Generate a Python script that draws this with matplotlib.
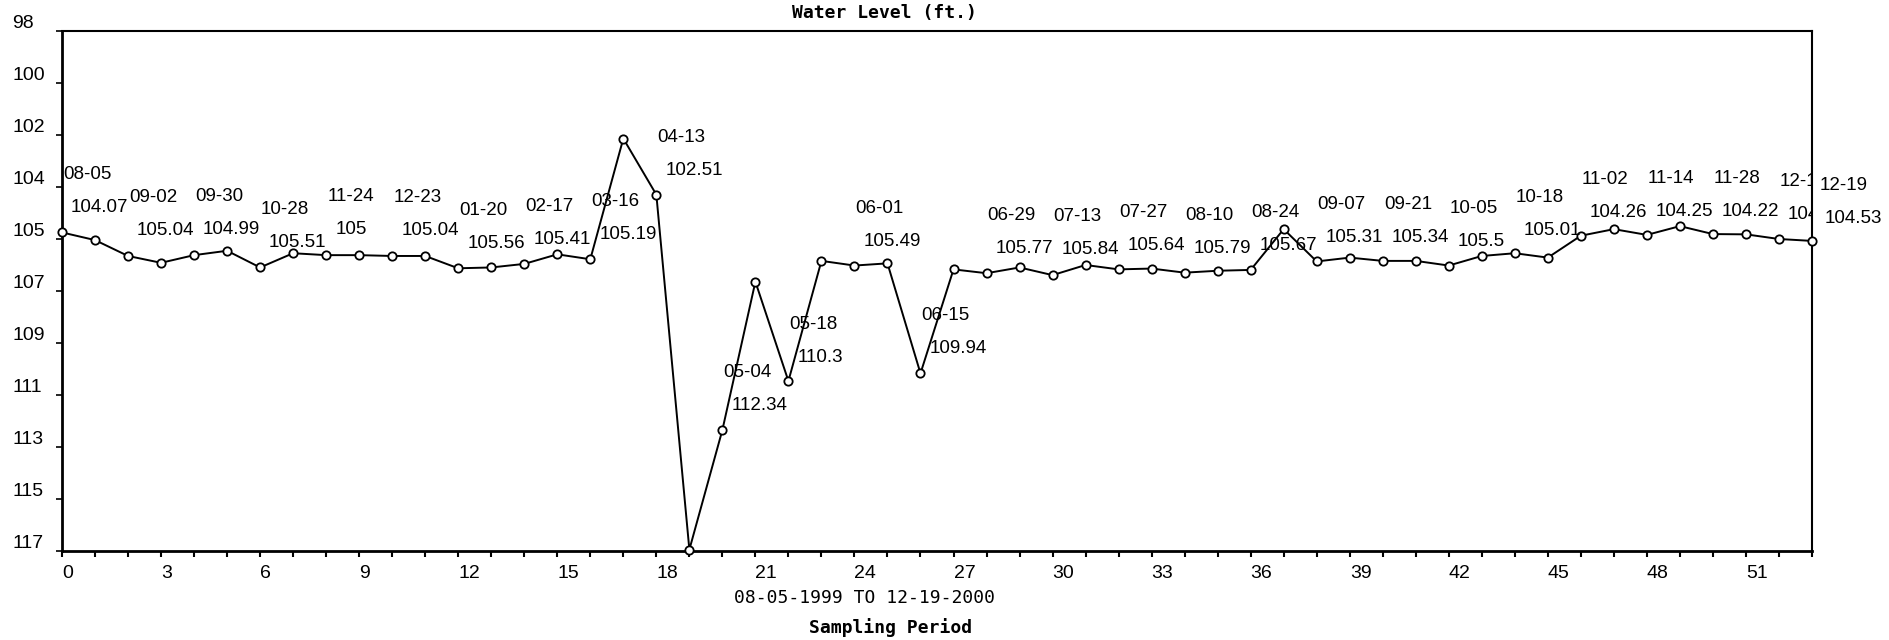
import numpy as np
import matplotlib
matplotlib.use("Agg")
import matplotlib.pyplot as plt
import matplotlib.transforms as mtransforms

# ----------------------------
# datos
# ----------------------------
muestra = np.arange(54)
nivel = [105.36, 105.64, 106.22, 106.47, 106.19, 106.03, 106.64, 106.12, 106.19, 106.19,
         106.22, 106.22, 106.67, 106.64, 106.51, 106.16, 106.34, 101.93, 103.98, 116.95,
         112.58, 107.16, 110.79, 106.40, 106.57, 106.49, 110.51, 106.71, 106.85, 106.64,
         106.92, 106.55, 106.71, 106.68, 106.83, 106.76, 106.73, 105.24, 106.42, 106.28,
         106.40, 106.40, 106.57, 106.22, 106.12, 106.28, 105.48, 105.24, 105.45, 105.13,
         105.42, 105.43, 105.60, 105.67]

# etiquetas: cada dos muestras + la ultima
idx_etiq = list(range(0, 53, 2)) + [53]
fechas = ['08-05', '09-02', '09-30', '10-28', '11-24', '12-23', '01-20', '02-17', '03-16',
          '04-13', '05-04', '05-18', '06-01', '06-15', '06-29', '07-13', '07-27', '08-10',
          '08-24', '09-07', '09-21', '10-05', '10-18', '11-02', '11-14', '11-28', '12-12',
          '12-19']
valores = ['104.07', '105.04', '104.99', '105.51', '105', '105.04', '105.56', '105.41',
           '105.19', '102.51', '112.34', '110.3', '105.49', '109.94', '105.77', '105.84',
           '105.64', '105.79', '105.67', '105.31', '105.34', '105.5', '105.01', '104.26',
           '104.25', '104.22', '104.38', '104.53']

y_ticks = np.linspace(98, 117, 11)
y_labels = ['98', '100', '102', '104', '105', '107', '109', '111', '113', '115', '117']
x_ticks = np.arange(0, 54, 3)

# ----------------------------
# grafico
# ----------------------------
W, H = 1889, 640
fig = plt.figure(figsize=(W / 100, H / 100), dpi=100)
ax = fig.add_axes([62 / W, 1 - 551 / H, (1812 - 62) / W, (551 - 31) / H])

ax.plot(muestra, nivel, color='black', lw=1.4, marker='o', ms=6, mfc='white',
        mec='black', mew=1.3, clip_on=False, zorder=3)

ax.set_xlim(0, 53)
ax.set_ylim(117, 98)

for lado in ['left', 'bottom']:
    ax.spines[lado].set_linewidth(2.0)
for lado in ['top', 'right']:
    ax.spines[lado].set_linewidth(1.5)

ax.set_xticks(x_ticks)
ax.set_xticks(muestra, minor=True)
ax.set_xticklabels([str(t) for t in x_ticks], fontsize=14, family='Liberation Sans')
for lab in ax.get_xticklabels():
    lab.set_ha('left')
ax.tick_params(axis='x', which='both', direction='out', length=4, width=1.5, pad=6)

ax.set_yticks(y_ticks)
ax.set_yticklabels([])
ax.tick_params(axis='y', direction='out', length=4, width=1.2)

# etiquetas del eje y alineadas a la izquierda, un poco por encima del tick
tr_y = mtransforms.blended_transform_factory(fig.transFigure, ax.transData)
tr_y = mtransforms.offset_copy(tr_y, fig=fig, y=3, units='dots')
for v, lab in zip(y_ticks, y_labels):
    ax.text(12 / W, v, lab, transform=tr_y, ha='left', va='baseline',
            fontsize=14, family='Liberation Sans', clip_on=False)

# etiquetas fecha / valor; su altura sigue el valor con otra escala (24 px/unidad)
px_u = (551 - 31) / 19.0
for k, (i, f, v) in enumerate(zip(idx_etiq, fechas, valores)):
    py = (float(v) - 98) * 24 - 2.2
    yf = 98 + py / px_u
    yv = yf + 33 / px_u
    dx1, dx2 = (1, 9) if i != 53 else (8, 13)
    clip = (i == 52)
    t1 = mtransforms.offset_copy(ax.transData, fig=fig, x=dx1, units='dots')
    t2 = mtransforms.offset_copy(ax.transData, fig=fig, x=dx2, units='dots')
    ax.text(i, yf, f, transform=t1, ha='left', va='center', fontsize=13.5,
            family='Liberation Sans', clip_on=clip, zorder=4)
    ax.text(i, yv, v, transform=t2, ha='left', va='center', fontsize=13.5,
            family='Liberation Sans', clip_on=clip, zorder=4)

fig.text(884 / W, 1 - 13 / H, 'Water Level (ft.)', ha='center', va='center',
         fontsize=13, family='DejaVu Sans Mono', fontweight='bold')
fig.text(864 / W, 1 - 598 / H, '08-05-1999 TO 12-19-2000', ha='center', va='center',
         fontsize=13, family='DejaVu Sans Mono')
fig.text(891 / W, 1 - 628 / H, 'Sampling Period', ha='center', va='center',
         fontsize=13, family='DejaVu Sans Mono', fontweight='bold')

plt.savefig('out.png', dpi=100)
plt.close()
